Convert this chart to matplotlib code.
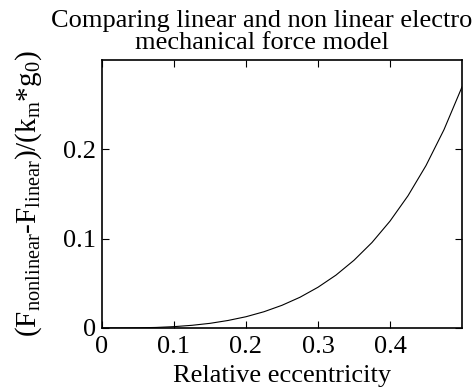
import matplotlib
matplotlib.use('Agg')
from matplotlib import pyplot as plt

# relative eccentricity and the force difference
ecc = [0.0, 0.025, 0.05, 0.075, 0.1, 0.125, 0.15, 0.175, 0.2, 0.225, 0.25,
       0.275, 0.3, 0.325, 0.35, 0.375, 0.4, 0.425, 0.45, 0.475, 0.5]
dforce = [0.0, 0.00002, 0.0002, 0.0006, 0.0015, 0.0030, 0.0052, 0.0084, 0.0126,
          0.0182, 0.0254, 0.0344, 0.0456, 0.0592, 0.0758, 0.0957, 0.1196,
          0.1480, 0.1818, 0.2220, 0.2698]
xticks = [0, 0.1, 0.2, 0.3, 0.4]
yticks = [0, 0.1, 0.2]

plt.rcParams['font.family'] = ['Liberation Serif', 'DejaVu Serif']
plt.rcParams['mathtext.fontset'] = 'custom'
plt.rcParams['mathtext.rm'] = 'Liberation Serif'
plt.rcParams['mathtext.it'] = 'Liberation Serif'
plt.rcParams['font.size'] = 19

fig = plt.figure(figsize=(4.75, 3.92), dpi=100)
ax = fig.add_axes([0.2147, 0.1633, 0.7579, 0.6836])
ax.plot(ecc, dforce, color='black', linewidth=0.8)

ax.set_xlim(0, 0.5)
ax.set_ylim(0, 0.3)
ax.set_xticks(xticks)
ax.set_xticklabels(['0', '0.1', '0.2', '0.3', '0.4'])
ax.set_yticks(yticks)
ax.set_yticklabels(['0', '0.1', '0.2'])
ax.tick_params(axis='x', direction='in', length=5, width=0.8, top=True, pad=6)
ax.tick_params(axis='y', direction='in', length=5, width=0.8, right=True, pad=4)
for s in ax.spines.values():
    s.set_linewidth(1.2)

ax.set_xlabel('Relative eccentricity', labelpad=5)
ax.set_ylabel(r'(F$_{\rm nonlinear}$-F$_{\rm linear}$)/(k$_{\rm m}$*g$_{0}$)',
              labelpad=14, fontsize=21)
ax.set_title('Comparing linear and non linear electro\nmechanical force model',
             x=0.445, pad=8, linespacing=1.0, fontsize=19)

plt.savefig('out.png', dpi=100)
